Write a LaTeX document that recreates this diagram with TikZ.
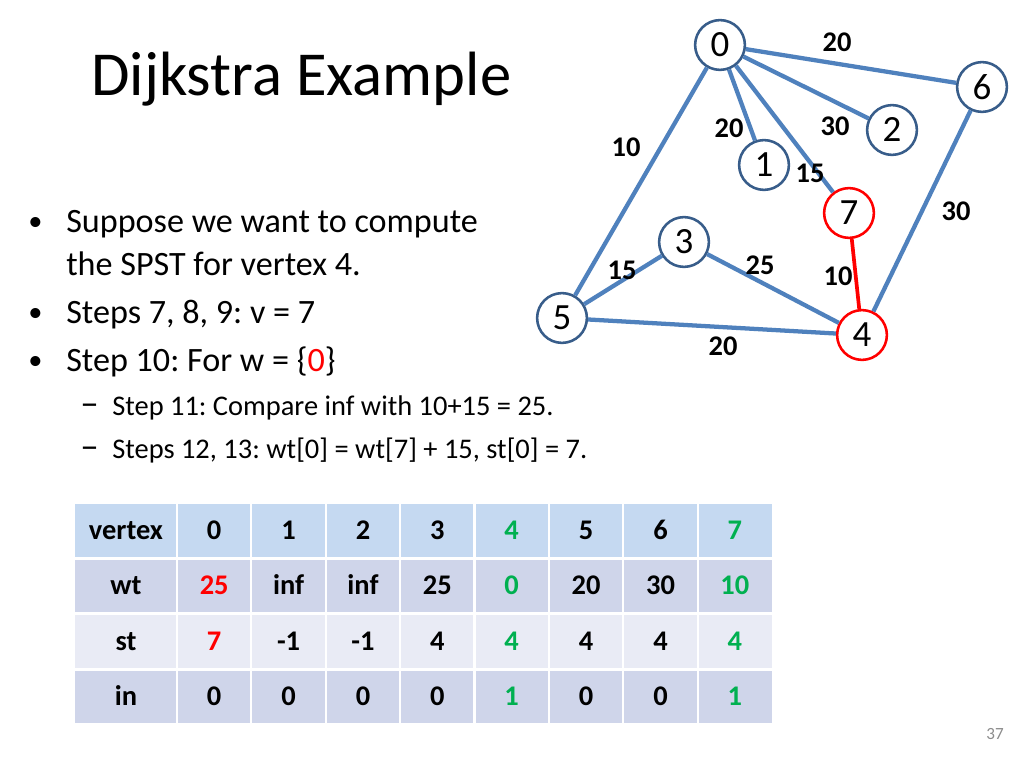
\documentclass[tikz,border=0pt]{standalone}
\usepackage{fontspec}
\setmainfont{Carlito}
\frenchspacing
\definecolor{edgeblue}{RGB}{79,129,189}
\definecolor{nodeblue}{RGB}{56,93,138}
\definecolor{hdrblue}{RGB}{197,217,241}
\definecolor{rowdark}{RGB}{207,213,234}
\definecolor{rowlight}{RGB}{233,235,245}
\definecolor{grn}{RGB}{0,176,80}
\definecolor{pgray}{RGB}{140,140,140}
\tikzset{
  vtx/.style={circle,draw=nodeblue,line width=1.8pt,fill=white,minimum size=35pt,inner sep=0pt,font=\fontsize{26}{30}\selectfont},
  vred/.style={vtx,draw=red},
  edg/.style={draw=edgeblue,line width=3pt},
  edgred/.style={draw=red,line width=2.6pt},
  wlab/.style={inner sep=0pt,font=\bfseries\fontsize{20}{24}\selectfont},
  txt/.style={anchor=base west,inner sep=0pt},
  cell/.style={anchor=base,inner sep=0pt,font=\bfseries\fontsize{20}{24}\selectfont}
}
\begin{document}
\begin{tikzpicture}[x=0.703125pt,y=-0.703125pt]
\useasboundingbox[fill=white] (0,0) rectangle (1024,768);
% title
\node[txt,font=\fontsize{44}{53}\selectfont] (title) at (91,96) {Dijkstra Example};
% bullets
\begin{scope}[font=\fontsize{24}{29}\selectfont]
\node[txt,font=\fontsize{20}{24}\selectfont] (d1) at (28,231) {•};
\node[txt] (b1) at (66,233) {Suppose we want to compute};
\node[txt] (b1b) at (66,276) {the SPST for vertex 4.};
\node[txt,font=\fontsize{20}{24}\selectfont] (d2) at (28,322) {•};
\node[txt] (b2) at (66,324) {Steps 7, 8, 9: v = 7};
\node[txt,font=\fontsize{20}{24}\selectfont] (d3) at (28,369) {•};
\node[txt] (b3) at (66,371) {Step 10: For w = \{\textcolor{red}{0}\}};
\end{scope}
\begin{scope}[font=\fontsize{20}{24}\selectfont]
\node[txt,font=\fontsize{26}{30}\selectfont] (s1d) at (80,415) {–};
\node[txt] (s1) at (112,415) {Step 11: Compare inf with 10+15 = 25.};
\node[txt,font=\fontsize{26}{30}\selectfont] (s2d) at (80,458) {–};
\node[txt] (s2) at (112,458) {Steps 12, 13: wt[0] = wt[7] + 15, st[0] = 7.};
\end{scope}
% graph
\node[vtx] (n0) at (720,45) {0};
\node[vtx] (n6) at (982,87) {6};
\node[vtx] (n2) at (892,130) {2};
\node[vtx] (n1) at (764,165) {1};
\node[vred] (n7) at (849,213) {7};
\node[vtx] (n3) at (684,242) {3};
\node[vtx] (n5) at (562,318) {5};
\node[vred] (n4) at (862,335) {4};
\draw[edg] (n0) -- (n6);
\draw[edg] (n0) -- (n2);
\draw[edg] (n0) -- (n1);
\draw[edg] (n0) -- (n7);
\draw[edg] (n0) -- (n5);
\draw[edg] (n5) -- (n3);
\draw[edg] (n3) -- (n4);
\draw[edg] (n5) -- (n4);
\draw[edg] (n6) -- (n4);
\draw[edgred] (n7) -- (n4);
\node[wlab] (l06) at (837,42) {20};
\node[wlab] (l01) at (729,128) {20};
\node[wlab] (l02) at (835,126) {30};
\node[wlab] (l05) at (626,147) {10};
\node[wlab] (l07) at (810,173) {15};
\node[wlab] (l64) at (956,211) {30};
\node[wlab] (l53) at (622,270) {15};
\node[wlab] (l34) at (760,265) {25};
\node[wlab] (l74) at (838,276) {10};
\node[wlab] (l54) at (723,346) {20};
% table backgrounds
\fill[hdrblue] (75,504) rectangle (772,557);
\fill[rowdark] (75,560) rectangle (772,613);
\fill[rowlight] (75,613) rectangle (772,669);
\fill[rowdark] (75,669) rectangle (772,723);
\draw[white,line width=1.5pt] (75,613.5) -- (772,613.5);
\draw[white,line width=1.5pt] (75,669.5) -- (772,669.5);
\foreach \xx in {177,251.4,325.8,400.1,474.5,548.9,623.3,697.6}
  \draw[white,line width=1.5pt] (\xx,504) -- (\xx,723);
% table text
\def\cx#1{\ifcase#1 126\or 214.2\or 288.6\or 363\or 437.3\or 511.7\or 586.1\or 660.5\or 734.8\fi}
\foreach \t [count=\i from 0] in {vertex,0,1,2,3,\textcolor{grn}{4},5,6,\textcolor{grn}{7}}
  \node[cell] (h\i) at (\cx{\i},539) {\t};
\foreach \t [count=\i from 0] in {wt,\textcolor{red}{25},inf,inf,25,\textcolor{grn}{0},20,30,\textcolor{grn}{10}}
  \node[cell] (w\i) at (\cx{\i},594) {\t};
\foreach \t [count=\i from 0] in {st,\textcolor{red}{7},-1,-1,4,\textcolor{grn}{4},4,4,\textcolor{grn}{4}}
  \node[cell] (s\i) at (\cx{\i},650) {\t};
\foreach \t [count=\i from 0] in {in,0,0,0,0,\textcolor{grn}{1},0,0,\textcolor{grn}{1}}
  \node[cell] (i\i) at (\cx{\i},705) {\t};
% page number
\node[inner sep=0pt,text=pgray,font=\fontsize{12}{14}\selectfont] (pg) at (995,734) {37};
\end{tikzpicture}
\end{document}
